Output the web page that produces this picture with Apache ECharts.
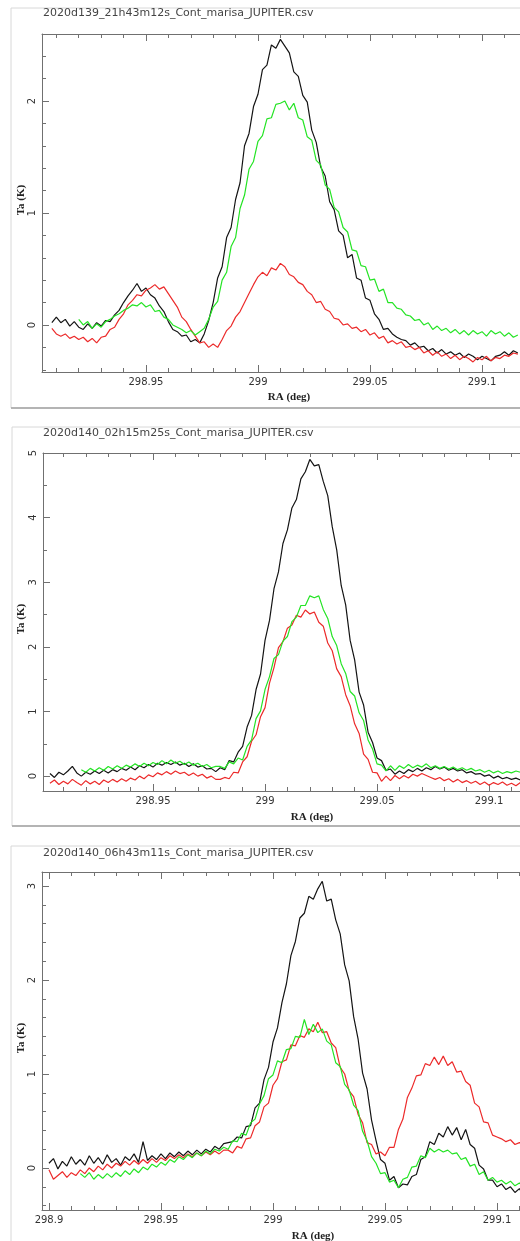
<!DOCTYPE html>
<html><head><meta charset="utf-8">
<script src="https://cdn.jsdelivr.net/npm/echarts@6/dist/echarts.min.js"></script>
<style>html,body{margin:0;padding:0;background:#fff;overflow:hidden;width:520px;height:1241px}#c{width:600px;height:1241px}</style>
</head><body><div id="c"></div><script>
// RA sample grid (deg)
const ra = [
298.900,298.902,298.904,298.906,298.908,298.910,298.912,298.914,298.916,298.918,
298.920,298.922,298.924,298.926,298.928,298.930,298.932,298.934,298.936,298.938,
298.940,298.942,298.944,298.946,298.948,298.950,298.952,298.954,298.956,298.958,
298.960,298.962,298.964,298.966,298.968,298.970,298.972,298.974,298.976,298.978,
298.980,298.982,298.984,298.986,298.988,298.990,298.992,298.994,298.996,298.998,
299.000,299.002,299.004,299.006,299.008,299.010,299.012,299.014,299.016,299.018,
299.020,299.022,299.024,299.026,299.028,299.030,299.032,299.034,299.036,299.038,
299.040,299.042,299.044,299.046,299.048,299.050,299.052,299.054,299.056,299.058,
299.060,299.062,299.064,299.066,299.068,299.070,299.072,299.074,299.076,299.078,
299.080,299.082,299.084,299.086,299.088,299.090,299.092,299.094,299.096,299.098,
299.100,299.102,299.104,299.106,299.108,299.110,299.112,299.114,299.116];

// Panel 1: 2020d139_21h43m12s
const p1Black = [
null,null,null,null,0.02,0.07,0.02,0.05,-0.01,0.03,
-0.02,-0.04,0.01,-0.03,0.02,-0.01,0.04,0.03,0.09,0.13,
0.2,0.26,0.31,0.37,0.3,0.33,0.27,0.24,0.17,0.12,
0.03,-0.04,-0.06,-0.1,-0.09,-0.15,-0.13,-0.16,-0.08,0.04,
0.2,0.42,0.52,0.78,0.87,1.12,1.27,1.6,1.71,1.95,
2.06,2.28,2.32,2.5,2.47,2.55,2.49,2.43,2.26,2.22,
2.05,1.99,1.74,1.63,1.41,1.33,1.1,1.03,0.84,0.8,
0.6,0.63,0.42,0.4,0.24,0.22,0.1,0.05,-0.04,-0.03,
-0.08,-0.11,-0.13,-0.14,-0.18,-0.16,-0.2,-0.19,-0.23,-0.21,
-0.25,-0.22,-0.26,-0.24,-0.27,-0.25,-0.29,-0.26,-0.28,-0.31,
-0.28,-0.3,-0.32,-0.28,-0.27,-0.24,-0.27,-0.23,-0.25];
const p1Green = [
null,null,null,null,null,null,null,null,null,null,
0.05,0.0,0.03,-0.03,0.01,-0.02,0.03,0.05,0.08,0.1,
0.13,0.15,0.18,0.17,0.2,0.16,0.18,0.12,0.13,0.07,
0.05,0.0,-0.02,-0.04,-0.07,-0.05,-0.09,-0.06,-0.03,0.05,
0.16,0.21,0.4,0.47,0.7,0.78,1.04,1.16,1.39,1.46,
1.64,1.69,1.84,1.85,1.97,1.98,2.0,1.92,1.98,1.85,
1.83,1.68,1.65,1.47,1.43,1.25,1.21,1.05,1.01,0.87,
0.83,0.67,0.66,0.53,0.52,0.4,0.41,0.3,0.32,0.2,
0.2,0.15,0.14,0.09,0.08,0.04,0.05,0.0,0.02,-0.04,
-0.01,-0.05,-0.03,-0.07,-0.04,-0.08,-0.05,-0.09,-0.05,-0.08,
-0.06,-0.1,-0.05,-0.08,-0.06,-0.1,-0.07,-0.11,-0.09];
const p1Red = [
null,null,null,null,-0.03,-0.08,-0.1,-0.08,-0.12,-0.1,
-0.13,-0.11,-0.15,-0.12,-0.16,-0.11,-0.1,-0.04,-0.02,0.05,
0.1,0.18,0.22,0.27,0.26,0.31,0.33,0.36,0.32,0.34,
0.28,0.22,0.16,0.07,0.03,-0.04,-0.1,-0.16,-0.15,-0.2,
-0.17,-0.2,-0.13,-0.05,-0.01,0.07,0.12,0.2,0.28,0.36,
0.43,0.47,0.44,0.51,0.49,0.55,0.52,0.45,0.43,0.38,
0.36,0.3,0.27,0.2,0.21,0.14,0.12,0.06,0.05,0.0,
0.01,-0.03,-0.02,-0.06,-0.04,-0.09,-0.07,-0.12,-0.1,-0.16,
-0.14,-0.17,-0.15,-0.2,-0.19,-0.22,-0.2,-0.25,-0.23,-0.27,
-0.24,-0.28,-0.26,-0.3,-0.27,-0.31,-0.28,-0.3,-0.33,-0.29,
-0.31,-0.28,-0.32,-0.29,-0.3,-0.27,-0.28,-0.25,-0.26];

// Panel 2: 2020d140_02h15m25s
const p2Black = [
null,null,0.04,-0.02,0.06,0.02,0.08,0.15,0.05,0.0,
0.06,0.03,0.08,0.04,0.09,0.05,0.1,0.07,0.12,0.09,
0.14,0.1,0.16,0.13,0.18,0.14,0.2,0.17,0.21,0.18,
0.22,0.17,0.2,0.15,0.19,0.14,0.16,0.11,0.12,0.07,
0.13,0.1,0.24,0.22,0.37,0.46,0.76,0.94,1.34,1.58,
2.1,2.41,2.9,3.16,3.6,3.81,4.15,4.28,4.6,4.71,
4.9,4.8,4.82,4.56,4.34,3.86,3.5,2.95,2.65,2.1,
1.8,1.3,1.1,0.68,0.52,0.28,0.24,0.09,0.11,0.03,
0.08,0.04,0.1,0.07,0.12,0.08,0.13,0.1,0.15,0.11,
0.14,0.09,0.12,0.08,0.1,0.05,0.07,0.03,0.04,0.0,
0.02,-0.03,0.0,-0.04,-0.02,-0.05,-0.03,-0.06,-0.01];
const p2Green = [
null,null,null,null,null,null,null,null,null,0.1,
0.06,0.12,0.08,0.13,0.09,0.15,0.11,0.16,0.12,0.17,
0.14,0.19,0.15,0.2,0.16,0.21,0.18,0.24,0.19,0.25,
0.2,0.23,0.18,0.22,0.17,0.2,0.15,0.18,0.13,0.15,
0.15,0.12,0.22,0.19,0.28,0.25,0.46,0.56,0.89,1.01,
1.34,1.54,1.82,1.88,2.09,2.16,2.39,2.46,2.64,2.64,
2.79,2.76,2.79,2.58,2.44,2.16,2.02,1.74,1.59,1.31,
1.24,0.98,0.86,0.56,0.42,0.19,0.17,0.08,0.16,0.09,
0.16,0.12,0.18,0.13,0.17,0.14,0.19,0.13,0.16,0.12,
0.15,0.11,0.14,0.1,0.13,0.09,0.12,0.08,0.1,0.06,
0.09,0.05,0.08,0.04,0.07,0.05,0.08,0.06,0.07];
const p2Red = [
null,null,-0.11,-0.06,-0.13,-0.08,-0.12,-0.05,-0.1,-0.14,
-0.07,-0.12,-0.08,-0.13,-0.06,-0.1,-0.05,-0.09,-0.04,-0.08,
-0.03,-0.06,0.0,-0.04,0.02,-0.01,0.05,0.02,0.07,0.03,
0.08,0.04,0.06,0.01,0.05,0.0,0.03,-0.03,0.0,-0.05,
-0.05,-0.02,-0.04,0.06,0.05,0.22,0.3,0.54,0.64,0.92,
1.06,1.44,1.68,1.99,2.08,2.29,2.34,2.49,2.46,2.57,
2.51,2.54,2.38,2.32,2.06,1.94,1.66,1.54,1.26,1.09,
0.81,0.66,0.34,0.26,0.06,0.05,-0.08,0.0,-0.07,0.01,
-0.04,0.01,-0.03,0.03,0.0,0.04,0.01,-0.02,-0.05,-0.02,
-0.07,-0.04,-0.09,-0.05,-0.1,-0.07,-0.11,-0.08,-0.13,-0.09,
-0.14,-0.1,-0.13,-0.09,-0.14,-0.11,-0.15,-0.1,-0.12];

// Panel 3: 2020d140_06h43m11s
const p3Black = [
0.05,0.1,-0.01,0.07,0.02,0.12,0.04,0.09,0.03,0.13,
0.05,0.11,0.04,0.14,0.06,0.1,0.03,0.12,0.08,0.15,
0.06,0.28,0.08,0.13,0.09,0.15,0.1,0.16,0.12,0.17,
0.13,0.18,0.14,0.19,0.15,0.2,0.17,0.23,0.2,0.26,
0.27,0.28,0.33,0.32,0.44,0.45,0.64,0.69,0.94,1.07,
1.34,1.49,1.76,1.96,2.26,2.41,2.66,2.71,2.89,2.86,
2.97,3.05,2.84,2.86,2.64,2.49,2.16,1.99,1.61,1.37,
1.01,0.84,0.51,0.29,0.09,0.05,-0.13,-0.09,-0.21,-0.17,
-0.18,-0.09,-0.07,0.09,0.12,0.28,0.25,0.37,0.33,0.44,
0.35,0.43,0.3,0.41,0.25,0.21,0.03,-0.01,-0.13,-0.13,
-0.2,-0.17,-0.23,-0.2,-0.26,-0.22,-0.3,-0.25,-0.3];
const p3Green = [
null,null,null,null,null,null,null,-0.06,-0.1,-0.05,
-0.12,-0.07,-0.11,-0.06,-0.1,-0.05,-0.09,-0.03,-0.07,-0.01,
-0.05,0.01,-0.02,0.04,0.01,0.06,0.03,0.09,0.06,0.12,
0.09,0.14,0.11,0.16,0.13,0.18,0.15,0.2,0.18,0.22,
0.2,0.29,0.28,0.37,0.35,0.48,0.52,0.68,0.77,0.95,
0.99,1.14,1.12,1.26,1.27,1.4,1.39,1.58,1.42,1.53,
1.44,1.48,1.35,1.31,1.12,1.08,0.89,0.83,0.67,0.61,
0.39,0.29,0.12,0.05,-0.06,-0.05,-0.15,-0.13,-0.21,-0.12,
-0.1,0.01,0.02,0.13,0.11,0.21,0.17,0.2,0.17,0.19,
0.15,0.16,0.09,0.11,0.02,0.04,-0.07,-0.04,-0.13,-0.1,
-0.15,-0.13,-0.17,-0.14,-0.19,-0.16,-0.2,-0.18,-0.22];
const p3Red = [
-0.02,-0.12,-0.08,-0.04,-0.1,-0.05,-0.08,-0.02,-0.06,0.0,
-0.04,0.02,-0.02,0.04,0.0,0.05,0.02,0.07,0.03,0.08,
0.04,0.09,0.05,0.1,0.06,0.11,0.08,0.13,0.1,0.14,
0.11,0.15,0.12,0.16,0.13,0.17,0.14,0.18,0.15,0.19,
0.19,0.16,0.23,0.21,0.31,0.32,0.45,0.49,0.65,0.69,
0.88,0.95,1.13,1.15,1.31,1.3,1.41,1.39,1.48,1.45,
1.55,1.44,1.45,1.33,1.28,1.07,1.0,0.82,0.76,0.57,
0.48,0.27,0.25,0.15,0.17,0.13,0.22,0.22,0.41,0.52,
0.75,0.85,0.98,0.99,1.11,1.09,1.18,1.1,1.19,1.09,
1.13,1.02,1.03,0.92,0.88,0.69,0.65,0.49,0.48,0.35,
0.33,0.31,0.28,0.3,0.25,0.27,0.24,0.28,0.26];

const titles = [
'2020d139_21h43m12s_Cont_marisa_JUPITER.csv',
'2020d140_02h15m25s_Cont_marisa_JUPITER.csv',
'2020d140_06h43m11s_Cont_marisa_JUPITER.csv'];
const xTitle = 'RA (deg)';
const yTitle = 'Ta (K)';

// tick values
const xMajorTicks = [298.9, 298.95, 299, 299.05, 299.1];
const xMinorTicks = [298.9,298.91,298.92,298.93,298.94,298.95,298.96,298.97,298.98,298.99,299,299.01,299.02,299.03,299.04,299.05,299.06,299.07,299.08,299.09,299.1,299.11,299.12];
const p1YMajor = [0, 1, 2];
const p1YMinor = [-0.4,-0.2,0,0.2,0.4,0.6,0.8,1,1.2,1.4,1.6,1.8,2,2.2,2.4];
const p2YMajor = [0, 1, 2, 3, 4, 5];
const p2YMinor = [0,0.5,1,1.5,2,2.5,3,3.5,4,4.5,5];
const p3YMajor = [0, 1, 2, 3];
const p3YMinor = [-0.4,-0.2,0,0.2,0.4,0.6,0.8,1,1.2,1.4,1.6,1.8,2,2.2,2.4,2.6,2.8,3];

const colBlack = '#141414', colRed = '#ec2a2a', colGreen = '#24e424';
const axisCol = '#707070';
const tickFont = 'DejaVu Sans';

const panels = [
 {title:titles[0], data:[p1Black,p1Red,p1Green], yMajor:p1YMajor, yMinor:p1YMinor,
  grid:{left:42, top:34, width:507, height:338}, xMin:298.9036, xMax:299.1299, yMin:-0.42, yMax:2.598,
  frame:[11,8,408], titlePos:[43,13], raPos:[289,397], taPos:[21,200]},
 {title:titles[1], data:[p2Black,p2Red,p2Green], yMajor:p2YMajor, yMinor:p2YMinor,
  grid:{left:43, top:453, width:507, height:338}, xMin:298.9009, xMax:299.1272, yMin:-0.23, yMax:5,
  frame:[12,427,826], titlePos:[43,433], raPos:[312,817], taPos:[21,619]},
 {title:titles[2], data:[p3Black,p3Red,p3Green], yMajor:p3YMajor, yMinor:p3YMinor,
  grid:{left:42, top:872, width:507, height:338}, xMin:298.8969, xMax:299.1232, yMin:-0.447, yMax:3.149,
  frame:[11,846,1300], titlePos:[43,853], raPos:[313,1236], taPos:[21,1038]}
];

const fmt = v => String(Math.round(v * 1000) / 1000);
const grids = [], xAxes = [], yAxes = [], series = [], graphics = [];
const colors = [colBlack, colRed, colGreen];

panels.forEach((p, k) => {
  grids.push(Object.assign({containLabel:false}, p.grid));
  const inRangeX = arr => arr.filter(v => v >= p.xMin && v <= p.xMax);
  const inRangeY = arr => arr.filter(v => v >= p.yMin && v <= p.yMax);
  const xBase = {gridIndex:k, type:'value', min:p.xMin, max:p.xMax, splitLine:{show:false}};
  const yBase = {gridIndex:k, type:'value', min:p.yMin, max:p.yMax, splitLine:{show:false}};
  xAxes.push(Object.assign({}, xBase, {position:'bottom',
    axisLine:{show:true, onZero:false, lineStyle:{color:axisCol, width:1}},
    axisTick:{show:true, inside:true, length:7, customValues:inRangeX(xMajorTicks), lineStyle:{color:axisCol}},
    axisLabel:{show:true, customValues:inRangeX(xMajorTicks), formatter:fmt, margin:5, color:'#333', fontSize:10, fontFamily:tickFont}}));
  xAxes.push(Object.assign({}, xBase, {position:'bottom',
    axisLine:{show:false, onZero:false},
    axisTick:{show:true, inside:true, length:4, customValues:inRangeX(xMinorTicks), lineStyle:{color:axisCol}},
    axisLabel:{show:false}}));
  xAxes.push(Object.assign({}, xBase, {position:'top',
    axisLine:{show:true, onZero:false, lineStyle:{color:axisCol, width:1}},
    axisTick:{show:true, inside:true, length:7, customValues:inRangeX(xMajorTicks), lineStyle:{color:axisCol}},
    axisLabel:{show:false}}));
  xAxes.push(Object.assign({}, xBase, {position:'top',
    axisLine:{show:false, onZero:false},
    axisTick:{show:true, inside:true, length:4, customValues:inRangeX(xMinorTicks), lineStyle:{color:axisCol}},
    axisLabel:{show:false}}));
  yAxes.push(Object.assign({}, yBase, {position:'left',
    axisLine:{show:true, onZero:false, lineStyle:{color:axisCol, width:1}},
    axisTick:{show:true, inside:true, length:7, customValues:inRangeY(p.yMajor), lineStyle:{color:axisCol}},
    axisLabel:{show:true, customValues:inRangeY(p.yMajor), formatter:fmt, rotate:90, margin:5, color:'#333', fontSize:10, fontFamily:tickFont}}));
  yAxes.push(Object.assign({}, yBase, {position:'left',
    axisLine:{show:false, onZero:false},
    axisTick:{show:true, inside:true, length:4, customValues:inRangeY(p.yMinor), lineStyle:{color:axisCol}},
    axisLabel:{show:false}}));

  p.data.forEach((vals, s) => {
    series.push({type:'line', xAxisIndex:4*k, yAxisIndex:2*k, showSymbol:false, symbol:'none',
      animation:false, silent:true, clip:true,
      lineStyle:{color:colors[s], width:1.2},
      data: ra.map((x, i) => [x, vals[i]]).filter(d => d[1] !== null)});
  });

  graphics.push({type:'rect', silent:true, z:-10,
    shape:{x:p.frame[0], y:p.frame[1], width:700, height:p.frame[2]-p.frame[1]},
    style:{fill:'none', stroke:'#d8d8d8', lineWidth:1}});
  graphics.push({type:'line', silent:true, z:-9,
    shape:{x1:p.frame[0], y1:p.frame[2], x2:700, y2:p.frame[2]},
    style:{stroke:'#b4b4b4', lineWidth:2}});
  graphics.push({type:'text', silent:true, x:p.titlePos[0], y:p.titlePos[1],
    style:{text:p.title, fill:'#444', font:'11px "DejaVu Sans"', textVerticalAlign:'middle', textAlign:'left'}});
  graphics.push({type:'text', silent:true, x:p.raPos[0], y:p.raPos[1],
    style:{text:xTitle, fill:'#222', font:'bold 11px "Liberation Serif"', textVerticalAlign:'middle', textAlign:'center'}});
  graphics.push({type:'text', silent:true, x:p.taPos[0], y:p.taPos[1], rotation:Math.PI/2,
    style:{text:yTitle, fill:'#222', font:'bold 11px "Liberation Serif"', textVerticalAlign:'middle', textAlign:'center'}});
});

const chart = echarts.init(document.getElementById('c'), null, {renderer:'canvas'});
chart.setOption({
  backgroundColor:'#fff',
  animation:false,
  grid:grids, xAxis:xAxes, yAxis:yAxes, series:series, graphic:graphics
});
</script></body></html>
